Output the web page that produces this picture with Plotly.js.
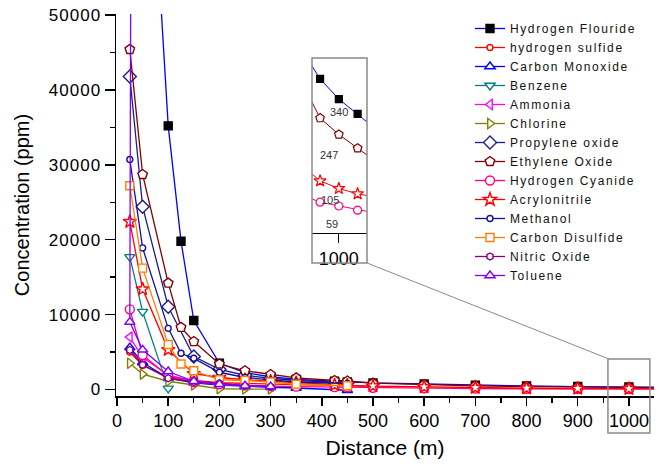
<!DOCTYPE html>
<html>
<head>
<meta charset="utf-8">
<script src="https://cdn.plot.ly/plotly-3.0.1.min.js"></script>
<style>
html,body{margin:0;padding:0;background:#fff;}
#chart{width:666px;height:464px;}
.legendtext{letter-spacing:1.6px;}
.ytick text{letter-spacing:1px;}
</style>
</head>
<body>
<div id="chart"></div>
<script>
// ---- data (distance in m, concentration in ppm) ----
const seriesNames = ["Hydrogen Flouride","hydrogen sulfide","Carbon Monoxide","Benzene","Ammonia","Chlorine","Propylene oxide","Ethylene Oxide","Hydrogen Cyanide","Acrylonitrile","Methanol","Carbon Disulfide","Nitric Oxide","Toluene"];

const distHF = [50,100,125,150,200,250,300,350,425,450,500,600,700,800,900,1000,1100,1200];
const concHF = [92000,35200,19800,9200,3500,2250,1700,1350,1100,1000,870,730,580,472,393,340,301,260];

const distH2S = [25,50,100,150,200,250,300,350,425,450,500];
const concH2S = [5000,3200,1700,1200,900,800,700,620,520,480,420];

const distCO = [25,50,100,150,200,250,300,350,450];
const concCO = [5600,3600,1500,900,600,400,300,200,-100];

const distBenzene = [25,50,100];
const concBenzene = [17700,10400,150];

const distAmmonia = [25,50,100,150,200,250,300];
const concAmmonia = [7000,4300,1900,1100,700,500,400];

const distChlorine = [25,50,100,150,200,250,300];
const concChlorine = [3500,2050,1100,600,100,60,60];

const distPO = [25,50,100,150,200,250,300,350,450];
const concPO = [41800,24400,11050,4400,2700,1900,1500,1200,900];

const distEO = [25,50,100,125,150,200,250,300,350,425,450,500,600,700,800,900,1000,1100,1200];
const concEO = [45400,28700,14200,8300,6400,3400,2500,2000,1550,1200,1130,850,650,500,388,290,247,211,175];

const distHCN = [25,50,100,150,200,250,300,350,425,450,500,600,700,800,900,1000,1100,1200];
const concHCN = [10700,4600,1800,1000,700,550,450,380,310,290,220,160,120,89,69,59,48,40];

const distAcryl = [25,50,100,150,200,250,300,350,425,450,500,600,700,800,900,1000,1100,1200];
const concAcryl = [22400,13400,5300,2100,1600,1300,1100,900,600,560,460,330,240,167,125,105,91,82];

const distMethanol = [25,50,100,125,150,200,250,300,350,450];
const concMethanol = [30700,18900,8160,4830,4160,2300,1600,1250,1000,800];

const distCS2 = [25,50,100,125,150,200,250,300,350,450];
const concCS2 = [27200,16200,6000,3400,2500,1300,1200,1000,700,500];

const distNO = [25,50,100,150,200,250,300];
const concNO = [5270,3300,1500,1000,830,470,370];

const distToluene = [27,25,50,100,150,200,250,300];
const concToluene = [60000,9000,5300,2400,1100,700,500,400];

const xTickVals = [0,100,200,300,400,500,600,700,800,900,1000];
const yTickVals = [0,10000,20000,30000,40000,50000];
const insetTick = [1000];

// ---- styles ----
const allX = [distHF,distH2S,distCO,distBenzene,distAmmonia,distChlorine,distPO,distEO,distHCN,distAcryl,distMethanol,distCS2,distNO,distToluene];
const allY = [concHF,concH2S,concCO,concBenzene,concAmmonia,concChlorine,concPO,concEO,concHCN,concAcryl,concMethanol,concCS2,concNO,concToluene];
const styles = [
  {c:'#0000ff', sym:'square', size:8, fill:'#000000', mline:'#000000'},
  {c:'#ff0000', sym:'circle', size:6},
  {c:'#0000ff', sym:'triangle-up', size:9},
  {c:'#008080', sym:'triangle-down', size:9},
  {c:'#ff00ff', sym:'triangle-left', size:9},
  {c:'#808000', sym:'triangle-right', size:9},
  {c:'#1c1c8c', sym:'diamond', size:10},
  {c:'#800000', sym:'pentagon', size:10},
  {c:'#ff0080', sym:'circle', size:9},
  {c:'#ff0000', sym:'star', size:10},
  {c:'#1010a0', sym:'circle', size:6},
  {c:'#ff8000', sym:'square', size:8},
  {c:'#800080', sym:'hexagon', size:7},
  {c:'#8000ff', sym:'triangle-up', size:9}
];

const traces = [];
seriesNames.forEach((name,i)=>{
  const s = styles[i];
  traces.push({
    type:'scatter', mode:'lines+markers', name:name,
    x: allX[i], y: allY[i],
    line:{color:s.c, width:1.3},
    marker:{symbol:s.sym, size:s.size, color:s.fill||'#ffffff', line:{color:s.mline||s.c, width:1.4}},
    xaxis:'x', yaxis:'y'
  });
});

// inset: only the four series that remain visible near 1000 m
const insetIdx = [0,7,9,8];
insetIdx.forEach(i=>{
  const s = styles[i];
  traces.push({
    type:'scatter', mode:'lines+markers', name:seriesNames[i], showlegend:false,
    x: allX[i], y: allY[i],
    line:{color:s.c, width:1},
    marker:{symbol:s.sym, size:s.size-1, color:s.fill||'#ffffff', line:{color:s.mline||s.c, width:1.2}},
    xaxis:'x2', yaxis:'y2'
  });
});

// value labels at 1000 m in the inset
const labelShift = [[0,-13],[-10,-21],[-9,-12],[-7,-18]];
const annotations = insetIdx.map((i,k)=>{
  const idx = allX[i].indexOf(1000);
  return {
    xref:'x2', yref:'y2', x:1000, y:allY[i][idx], text:String(allY[i][idx]),
    showarrow:false, xshift:labelShift[k][0], yshift:labelShift[k][1],
    font:{family:'Arial, Liberation Sans', size:11, color:'#333333'}
  };
});

const L=116, R=12, T=14, B=68, W=666, H=464;
const pw=W-L-R, ph=H-T-B;
const px=(p)=>(p-L)/pw, py=(p)=>(H-B-p)/ph;

const layout = {
  width:W, height:H,
  margin:{l:L, r:R, t:T, b:B, pad:0},
  paper_bgcolor:'#ffffff', plot_bgcolor:'#ffffff',
  font:{family:'Arial, Liberation Sans, sans-serif', color:'#000000'},
  showlegend:true,
  legend:{x:px(470), y:1, xanchor:'left', yanchor:'top', bgcolor:'rgba(0,0,0,0)', borderwidth:0,
          font:{family:'Arial, Liberation Sans', size:12, color:'#111111'}, itemwidth:30, tracegroupgap:0},
  xaxis:{
    domain:[0,1], range:[-2,1049], showgrid:false, zeroline:false,
    showline:true, linecolor:'#000000', linewidth:1.5, mirror:false,
    ticks:'outside', ticklen:8, tickwidth:1.5, tickcolor:'#000000',
    tickvals:xTickVals, ticktext:xTickVals.map(String),
    minor:{dtick:50, ticks:'outside', ticklen:5, tickwidth:1.3, tickcolor:'#000000', showgrid:false},
    tickfont:{family:'Arial, Liberation Sans', size:18, color:'#000000'},
    title:{text:'Distance (m)', font:{family:'Arial, Liberation Sans', size:21, color:'#000000'}, standoff:10},
    anchor:'y'
  },
  yaxis:{
    domain:[0,1], range:[-870,50130], showgrid:false, zeroline:false,
    showline:true, linecolor:'#000000', linewidth:1.5,
    ticks:'outside', ticklen:10, tickwidth:1.5, tickcolor:'#000000',
    tickvals:yTickVals, ticktext:yTickVals.map(String),
    minor:{dtick:5000, ticks:'outside', ticklen:5, tickwidth:1.3, tickcolor:'#000000', showgrid:false},
    tickfont:{family:'Arial, Liberation Sans', size:17, color:'#000000'},
    title:{text:'Concentration (ppm)', font:{family:'Arial, Liberation Sans', size:20, color:'#000000'}, standoff:14},
    anchor:'x'
  },
  xaxis2:{
    domain:[px(312), px(367)], range:[857,1150], anchor:'y2',
    showgrid:false, zeroline:false, showline:true, linecolor:'#000000', linewidth:1,
    ticks:'outside', ticklen:9, tickwidth:1, tickcolor:'#000000',
    tickvals:insetTick, ticktext:insetTick.map(String),
    tickfont:{family:'Arial, Liberation Sans', size:18, color:'#000000'}
  },
  yaxis2:{
    domain:[py(233), py(58)], range:[-12,448], anchor:'x2', visible:false
  },
  shapes:[
    {type:'rect', xref:'paper', yref:'paper', x0:px(312), x1:px(367), y0:py(263), y1:py(58),
     line:{color:'#8a8a8a', width:1.5}, fillcolor:'rgba(0,0,0,0)', layer:'above'},
    {type:'rect', xref:'x', yref:'paper', x0:959, x1:1041, y0:py(433), y1:py(359),
     line:{color:'#8a8a8a', width:1.5}, fillcolor:'rgba(0,0,0,0)', layer:'above'},
    {type:'line', xref:'paper', yref:'paper', x0:px(367), y0:py(263), x1:px(609), y1:py(359),
     line:{color:'#8a8a8a', width:1}}
  ],
  annotations:annotations
};

Plotly.newPlot('chart', traces, layout, {displayModeBar:false, staticPlot:true});
</script>
</body>
</html>
